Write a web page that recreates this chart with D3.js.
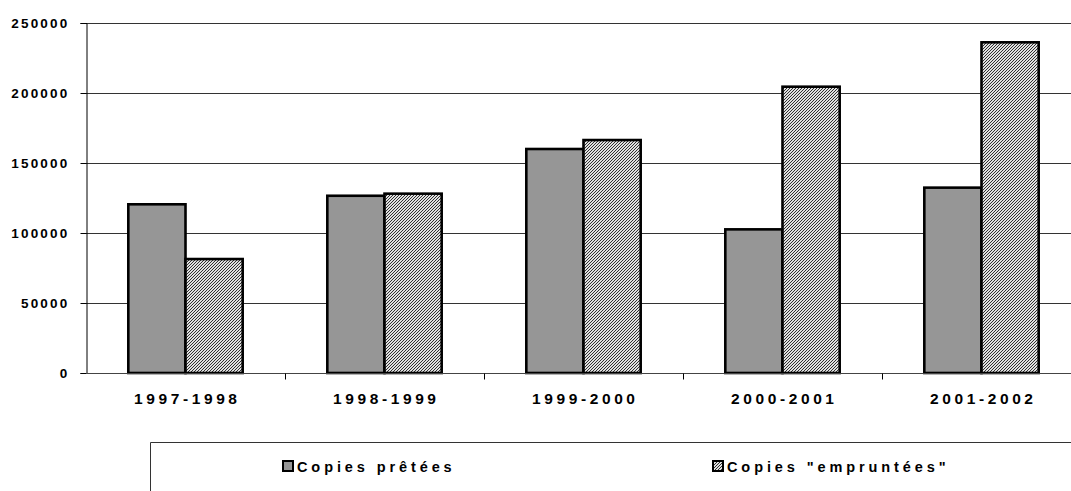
<!DOCTYPE html>
<html>
<head>
<meta charset="utf-8">
<script src="https://cdn.jsdelivr.net/npm/d3@7"></script>
<style>
  html, body { margin: 0; padding: 0; background: #fff; }
  svg { display: block; }
  text { font-family: "Liberation Sans", Arial, sans-serif; font-weight: bold; fill: #000; }
</style>
</head>
<body>
<svg id="chart" width="1071" height="491"></svg>
<script>
// Loan figures per school year
const categories = ["1997-1998", "1998-1999", "1999-2000", "2000-2001", "2001-2002"];
const seriesNames = ["Copies prêtées", "Copies \"empruntées\""];
const pretees = [120500, 126600, 160000, 102600, 132400];
const empruntees = [81400, 128100, 166400, 204500, 236200];
const yTicks = [0, 50000, 100000, 150000, 200000, 250000];

const svg = d3.select("#chart");
const plotLeft = 86, plotTop = 23, plotBottom = 373, step = 199;

// Fine diagonal hatch used for the second series
const defs = svg.append("defs");
const pat = defs.append("pattern")
  .attr("id", "hatch").attr("patternUnits", "userSpaceOnUse")
  .attr("width", 3).attr("height", 3);
pat.append("rect").attr("width", 3).attr("height", 3).attr("fill", "#e0e0e0");
[[2, 0], [1, 1], [0, 2]].forEach(([px, py]) => {
  pat.append("rect").attr("x", px).attr("y", py).attr("width", 1).attr("height", 1)
    .attr("fill", "#303030").attr("shape-rendering", "crispEdges");
});

const x0 = d3.scaleBand().domain(categories).range([plotLeft, plotLeft + step * categories.length]).padding(0);
const x1 = d3.scaleBand().domain([0, 1]).range([0, x0.bandwidth()]).paddingInner(0).paddingOuter(0.74);
const y = d3.scaleLinear().domain([0, 250000]).range([plotBottom, plotTop]);

// Gridlines
svg.append("g").selectAll("line").data(yTicks.filter(d => d > 0)).join("line")
  .attr("x1", plotLeft).attr("x2", 1071)
  .attr("y1", d => Math.round(y(d)) + 0.5).attr("y2", d => Math.round(y(d)) + 0.5)
  .attr("stroke", "#333").attr("stroke-width", 1);

// Bars
const rows = categories.map((c, i) => ({ c, v: [pretees[i], empruntees[i]] }));
const groups = svg.append("g").selectAll("g").data(rows).join("g")
  .attr("transform", d => `translate(${x0(d.c)},0)`);
groups.selectAll("rect").data(d => d.v.map((v, k) => ({ v, k }))).join("rect")
  .attr("x", d => x1(d.k))
  .attr("y", d => y(d.v))
  .attr("width", x1.bandwidth())
  .attr("height", d => y(0) - y(d.v))
  .attr("fill", d => d.k === 0 ? "#969696" : "url(#hatch)")
  .attr("stroke", "#000").attr("stroke-width", 2.6);

// Y axis
const yAxis = d3.axisLeft(y).tickValues(yTicks).tickSize(6).tickPadding(11).tickFormat(d3.format("d"));
const gy = svg.append("g").attr("transform", `translate(${plotLeft + 0.5},0)`).call(yAxis);
gy.select(".domain").attr("stroke", "#000");
gy.selectAll(".tick line").attr("stroke", "#000");
gy.selectAll(".tick text")
  .style("font-size", "13.5px").style("letter-spacing", "2.2px")
  .attr("font-family", null).attr("font-size", null);

// X axis
const xAxis = d3.axisBottom(x0).tickSize(0).tickPadding(19);
const gx = svg.append("g").attr("transform", `translate(0,${plotBottom + 0.5})`).call(xAxis);
gx.select(".domain").attr("stroke", "#444").attr("d", `M${plotLeft},0H1071`);
gx.selectAll(".tick text")
  .style("font-size", "15.5px").style("letter-spacing", "3.6px")
  .attr("dx", "1.8px")
  .attr("font-family", null).attr("font-size", null);
// boundary ticks between categories
gx.append("g").selectAll("line").data(categories.slice(1)).join("line")
  .attr("x1", d => Math.round(x0(d)) + 0.5).attr("x2", d => Math.round(x0(d)) + 0.5)
  .attr("y1", 0).attr("y2", 6).attr("stroke", "#000");

// Legend
const lg = svg.append("g");
lg.append("path").attr("d", "M150.5,491V442.5H1071")
  .attr("fill", "none").attr("stroke", "#333").attr("stroke-width", 1);
const legendX = [282, 712];
seriesNames.forEach((name, k) => {
  lg.append("rect")
    .attr("x", legendX[k] + 1).attr("y", 461).attr("width", 10).attr("height", 10)
    .attr("fill", k === 0 ? "#969696" : "url(#hatch)")
    .attr("stroke", "#000").attr("stroke-width", 2);
  lg.append("text")
    .attr("x", legendX[k] + 15).attr("y", 471.5)
    .style("font-size", "14.5px").style("letter-spacing", "3.9px")
    .text(name);
});
</script>
</body>
</html>
